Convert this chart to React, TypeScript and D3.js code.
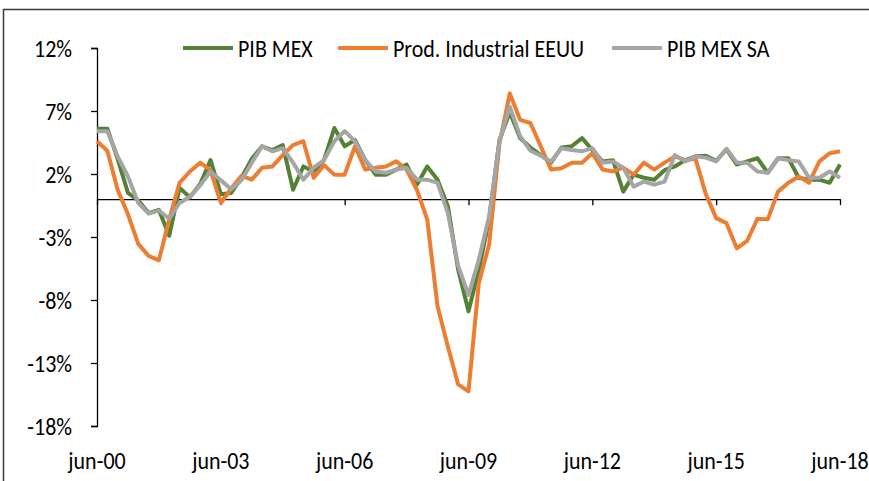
import React, { useRef, useLayoutEffect } from 'react';
import * as d3 from 'd3';

// quarterly categories jun-00 .. jun-18
const months = ['mar', 'jun', 'sep', 'dic'];
const categories: string[] = [];
for (let y = 0; y <= 18; y++) {
  months.forEach((m, q) => {
    if ((y === 0 && q === 0) || (y === 18 && q > 1)) return;
    categories.push(`${m}-${String(y).padStart(2, '0')}`);
  });
}

const xTickLabels = ['jun-00', 'jun-03', 'jun-06', 'jun-09', 'jun-12', 'jun-15', 'jun-18'];
const yTicks = [-18, -13, -8, -3, 2, 7, 12];

const pibMex = [
  5.6, 5.6, 3.2, 0.5, -0.1, -1.1, -0.85, -2.9, 0.9, 0.15, 1.2, 3.1, 0.4, 0.5, 1.7,
  3.2, 4.2, 3.9, 4.3, 0.75, 2.6, 2.2, 3.1, 5.65, 4.2, 4.7, 3.1, 1.95, 1.95, 2.35,
  2.75, 1.15, 2.6, 1.55, -0.55, -5.6, -8.9, -5.6, -1.6, 4.7, 6.9, 4.85, 4.1, 3.5, 2.9,
  4.1, 4.2, 4.85, 3.9, 3.0, 3.1, 0.6, 1.95, 1.7, 1.55, 2.3, 2.6, 3.1, 3.4, 3.45,
  3.05, 3.95, 2.75, 3.0, 3.25, 2.1, 3.25, 3.25, 1.7, 1.55, 1.55, 1.3, 2.75,
];

const prodIndEEUU = [
  4.6, 3.85, 0.75, -1.2, -3.55, -4.5, -4.85, -1.6, 1.3, 2.2, 2.9, 2.3, -0.3, 0.85, 1.85,
  1.55, 2.5, 2.6, 3.5, 4.3, 4.6, 1.7, 2.7, 1.95, 1.95, 4.2, 2.35, 2.5, 2.6, 3.0,
  2.35, 0.75, -1.6, -8.5, -11.7, -14.7, -15.25, -6.65, -3.6, 4.4, 8.4, 6.3, 6.05, 4.2, 2.35,
  2.45, 2.9, 2.9, 3.65, 2.35, 2.2, 2.5, 1.95, 2.9, 2.35, 2.9, 3.4, 3.1, 3.2, 0.4,
  -1.5, -1.9, -3.9, -3.3, -1.55, -1.6, 0.6, 1.3, 1.8, 1.3, 3.0, 3.65, 3.8,
];

const pibMexSA = [
  5.4, 5.4, 3.4, 1.8, -0.3, -1.15, -0.9, -1.55, -0.3, 0.2, 1.1, 2.2, 1.5, 0.8, 1.5,
  2.9, 4.2, 3.8, 4.05, 2.9, 1.55, 2.5, 3.1, 4.6, 5.4, 4.6, 3.1, 2.2, 2.1, 2.35,
  2.5, 1.55, 1.55, 1.3, -1.1, -5.3, -7.6, -4.8, -1.35, 4.6, 7.35, 5.0, 3.85, 3.45, 3.0,
  4.05, 3.9, 3.8, 4.05, 2.9, 3.0, 2.5, 1.0, 1.4, 1.15, 1.4, 3.5, 3.0, 3.4, 3.3,
  3.0, 4.0, 2.9, 2.9, 2.2, 2.1, 3.25, 3.1, 3.0, 1.7, 1.7, 2.2, 1.7,
];

const seriesNames = ['PIB MEX', 'Prod. Industrial EEUU', 'PIB MEX SA'];
const seriesColors = ['#548235', '#ED7D31', '#A5A5A5'];

const FONT = "Carlito, Calibri, 'Liberation Sans Narrow', 'Liberation Sans', Arial, sans-serif";
const FONT_SIZE = 22;
const STRETCH = 1.12; // the reference text is a little taller than wide

const App = () => {
  const svgRef = useRef<SVGSVGElement>(null);

  useLayoutEffect(() => {
    const w = 869;
    const h = 481;
    const svg = d3.select(svgRef.current);
    svg.selectAll('*').remove();

    // chart frame
    svg.append('rect')
      .attr('x', 3.5).attr('y', 9.5)
      .attr('width', 900).attr('height', 500)
      .attr('fill', 'white')
      .attr('stroke', '#3a3a3a')
      .attr('stroke-width', 1.5);

    const xScale = d3.scalePoint<string>()
      .domain(categories)
      .range([97, 840]);

    const yScale = d3.scaleLinear()
      .domain([-18, 12])
      .range([426, 48]);

    // small helper: text placed at (x, y) and stretched vertically
    const putText = (g: d3.Selection<any, any, any, any>, x: number, y: number, anchor: string, t: string) => {
      g.append('text')
        .attr('transform', `translate(${x},${y}) scale(1,${STRETCH})`)
        .attr('dy', '0.35em')
        .attr('text-anchor', anchor)
        .attr('font-family', FONT)
        .attr('font-size', FONT_SIZE)
        .attr('fill', '#000')
        .text(t);
    };

    // y axis
    const yAxis = d3.axisLeft(yScale)
      .tickValues(yTicks)
      .tickSize(6)
      .tickSizeOuter(6)
      .tickFormat(() => '');

    const gy = svg.append('g')
      .attr('transform', 'translate(97,0)')
      .call(yAxis);
    gy.select('.domain').attr('stroke', '#000').attr('stroke-width', 1.3);
    gy.selectAll('.tick line').attr('stroke', '#000').attr('stroke-width', 1.3);

    const yLabels = svg.append('g');
    yTicks.forEach(t => putText(yLabels, 72, yScale(t), 'end', `${t}%`));

    // x axis at zero
    const xAxis = d3.axisBottom(xScale)
      .tickValues(xTickLabels)
      .tickSize(6)
      .tickSizeOuter(0)
      .tickFormat(() => '');

    const gx = svg.append('g')
      .attr('transform', `translate(0,${yScale(0)})`)
      .call(xAxis);
    gx.select('.domain').attr('stroke', '#000').attr('stroke-width', 1.3);
    gx.selectAll('.tick line').attr('stroke', '#000').attr('stroke-width', 1.3);

    // x labels at the bottom
    const xLabels = svg.append('g');
    xTickLabels.forEach(t => putText(xLabels, xScale(t) as number, 460, 'middle', t));

    // lines
    const line = d3.line<number>()
      .x((_, i) => xScale(categories[i]) as number)
      .y(d => yScale(d));

    const allSeries = [pibMex, prodIndEEUU, pibMexSA];
    svg.append('g')
      .selectAll('path')
      .data(allSeries)
      .join('path')
      .attr('d', d => line(d))
      .attr('fill', 'none')
      .attr('stroke', (_, i) => seriesColors[i])
      .attr('stroke-width', 4)
      .attr('stroke-linejoin', 'round');

    // legend
    const legendX = [183, 338, 612];
    const lg = svg.append('g');
    seriesNames.forEach((name, i) => {
      lg.append('line')
        .attr('x1', legendX[i]).attr('x2', legendX[i] + 50)
        .attr('y1', 48).attr('y2', 48)
        .attr('stroke', seriesColors[i])
        .attr('stroke-width', 4);
      putText(lg, legendX[i] + 55, 48, 'start', name);
    });

    svg.attr('width', w).attr('height', h);
  }, []);

  return (
    <div>
      <svg ref={svgRef} style={{ position: 'absolute', left: 0, top: 0 }}></svg>
    </div>
  );
};

export default App;
